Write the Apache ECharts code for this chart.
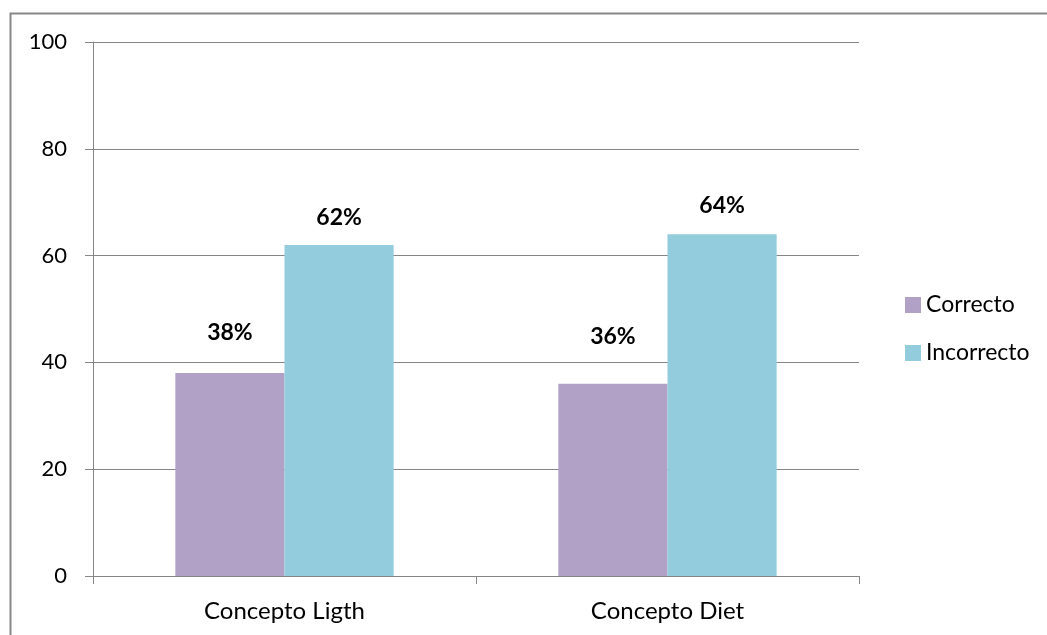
<!DOCTYPE html>
<html>
<head>
<meta charset="utf-8">
<script src="https://cdn.jsdelivr.net/npm/echarts@6/dist/echarts.min.js"></script>
<style>
  html, body { margin: 0; padding: 0; background: #fff; }
  #chart { width: 1047px; height: 635px; }
</style>
</head>
<body>
<div id="chart"></div>
<script>
// Answers per concept, in percent
const categories = ['Concepto Ligth', 'Concepto Diet'];
const correcto = [38, 36];
const incorrecto = [62, 64];
const seriesNames = ['Correcto', 'Incorrecto'];

const FONT = 'Lato, "Open Sans", sans-serif';
const GRID_COLOR = '#868686';

const chart = echarts.init(document.getElementById('chart'), null, { renderer: 'canvas' });

// Each value label sits at its own hand-placed height above its bar
function labelled(values, distances) {
  return values.map((v, i) => ({ value: v, label: { distance: distances[i] } }));
}

const valueLabel = {
  show: true, position: 'top', formatter: '{c}%',
  fontSize: 23, fontWeight: 'bold', color: '#000', fontFamily: FONT
};

chart.setOption({
  animation: false,
  backgroundColor: '#ffffff',
  textStyle: { fontFamily: FONT },
  graphic: [{
    type: 'rect',
    shape: { x: 10.5, y: 13.5, width: 1200, height: 800 },
    style: { fill: 'none', stroke: '#878787', lineWidth: 2 },
    silent: true,
    z: -1
  }],
  grid: { left: 93, right: 188, top: 42, bottom: 59, containLabel: false },
  legend: {
    orient: 'vertical',
    left: 900,
    top: 288,
    itemWidth: 16,
    itemHeight: 16,
    itemGap: 24,
    itemTextGap: 7,
    icon: 'rect',
    textStyle: { fontFamily: FONT, fontSize: 23, color: '#000', lineHeight: 24 },
    data: seriesNames
  },
  xAxis: {
    type: 'category',
    data: categories,
    boundaryGap: true,
    axisLine: { show: true, lineStyle: { color: GRID_COLOR, width: 1 } },
    axisTick: { show: true, length: 8, alignWithLabel: false, lineStyle: { color: GRID_COLOR } },
    axisLabel: { margin: 23, fontSize: 24, color: '#000', fontFamily: FONT }
  },
  yAxis: {
    type: 'value',
    min: 0,
    max: 100,
    interval: 20,
    axisLine: { show: true, lineStyle: { color: GRID_COLOR, width: 1 } },
    axisTick: { show: true, length: 8, inside: false, lineStyle: { color: GRID_COLOR } },
    splitLine: { show: true, lineStyle: { color: GRID_COLOR, width: 1 } },
    axisLabel: { margin: 26, fontSize: 22, color: '#000', fontFamily: FONT }
  },
  series: [
    {
      name: seriesNames[0],
      type: 'bar',
      data: labelled(correcto, [29, 36]),
      barGap: '0%',
      barCategoryGap: '43%',
      itemStyle: { color: '#B2A1C7' },
      label: valueLabel
    },
    {
      name: seriesNames[1],
      type: 'bar',
      data: labelled(incorrecto, [16, 17]),
      barGap: '0%',
      barCategoryGap: '43%',
      itemStyle: { color: '#93CDDD' },
      label: valueLabel
    }
  ]
});
</script>
</body>
</html>
